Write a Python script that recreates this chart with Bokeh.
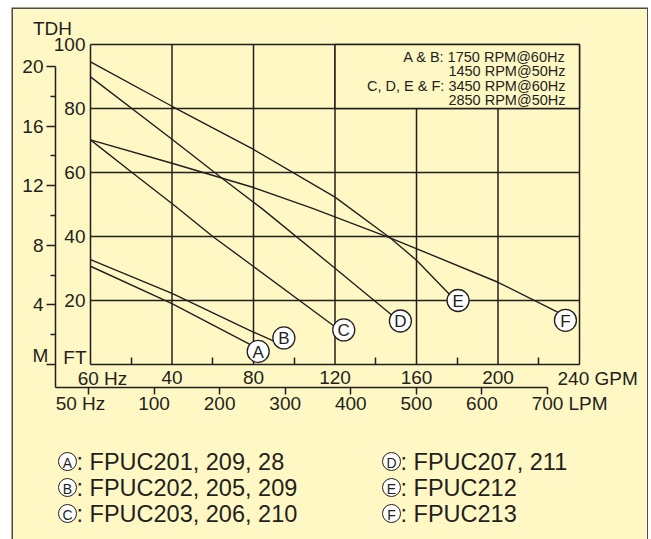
from bokeh.plotting import figure
from bokeh.models import Range1d, LinearAxis, FixedTicker
from bokeh.embed import file_html
from bokeh.resources import INLINE
from bokeh.core.properties import value

# ---------------- data ----------------
GPM_TICKS = [0, 40, 80, 120, 160, 200, 240]
GPM_LABELLED = [40, 80, 120, 160, 200]
GPM_MINOR = [20, 60, 100, 140, 180, 220]
FT_TICKS = [0, 20, 40, 60, 80, 100]
FT_LABELLED = [20, 40, 60, 80, 100]
M_TICKS = [0, 4, 8, 12, 16, 20]
M_MINOR = [2, 6, 10, 14, 18]
LPM_TICKS = [0, 100, 200, 300, 400, 500, 600, 700]

curve_A_gpm = [0, 40, 78, 80]
curve_A_ft = [30.7, 19.0, 6.4, 5.7]
curve_B_gpm = [0, 40, 79.4, 90]
curve_B_ft = [32.8, 22.2, 10.3, 7.3]
curve_C_gpm = [0, 21, 42, 60, 79, 120]
curve_C_ft = [70.2, 59.7, 49.3, 40.0, 31.1, 11.8]
curve_D_gpm = [0, 40, 66, 84, 120, 148]
curve_D_ft = [89.9, 70.4, 57.5, 48.8, 30.1, 15.4]
curve_E_gpm = [0, 40, 80, 120, 147, 160, 176.5]
curve_E_ft = [94.6, 80.7, 67.2, 52.3, 39.6, 32.6, 21.7]
curve_F_gpm = [0, 40, 80, 109, 147, 200, 230.5]
curve_F_ft = [70.2, 62.9, 55.3, 48.8, 39.6, 25.7, 16.0]

curve_keys = ["A", "B", "C", "D", "E", "F"]
marker_gpm = [82.3, 94.9, 124.3, 152.1, 180.4, 233.1]
marker_ft = [4.1, 8.3, 10.8, 13.6, 20.0, 13.8]

legend_models = [": FPUC201, 209, 28", ": FPUC202, 205, 209", ": FPUC203, 206, 210",
                 ": FPUC207, 211", ": FPUC212", ": FPUC213"]
speed_notes = ["A & B: 1750 RPM@60Hz", "1450 RPM@50Hz",
               "C, D, E & F: 3450 RPM@60Hz", "2850 RPM@50Hz"]

# ---------------- layout calibration (page pixels) ----------------
PX_X0, PX_X240 = 90.0, 579.0
PX_Y0, PX_Y100 = 364.0, 44.0
PAGE_L, PAGE_T = 11, 7
W, H = 637, 532

def gx(px):
    return (px - PX_X0) * 240.0 / (PX_X240 - PX_X0)

def fy(py):
    return (PX_Y0 - py) * 100.0 / (PX_Y0 - PX_Y100)

M_PER_FT = 20.0 / fy(66)

def lx(px):
    return (px - 88.0) * 700.0 / (547.0 - 88.0)

BG = "#FFF8C4"
INK = "#231F20"
FONT = "Liberation Sans"

p = figure(width=W, height=H, output_backend="svg", toolbar_location=None,
           x_range=Range1d(gx(PAGE_L), gx(PAGE_L + W)),
           y_range=Range1d(fy(PAGE_T + H), fy(PAGE_T)),
           x_axis_type=None, y_axis_type=None, min_border=0)
p.margin = (PAGE_T, 0, 0, PAGE_L)
p.background_fill_color = BG
p.border_fill_color = BG
p.outline_line_color = None
p.extra_x_ranges = {"lpm": Range1d(lx(PAGE_L), lx(PAGE_L + W))}
p.extra_y_ranges = {"m": Range1d(fy(PAGE_T + H) * M_PER_FT, fy(PAGE_T) * M_PER_FT)}

# outer box
p.quad(left=p.x_range.start, right=p.x_range.end, top=p.y_range.end,
       bottom=p.y_range.start - 10, fill_color=None, line_color="#4D4D4F", line_width=3)

# grid
p.segment(x0=GPM_TICKS, x1=GPM_TICKS, y0=[0] * len(GPM_TICKS), y1=[100] * len(GPM_TICKS),
          line_color=INK, line_width=1.5)
p.segment(x0=[0] * len(FT_TICKS), x1=[240] * len(FT_TICKS), y0=FT_TICKS, y1=FT_TICKS,
          line_color=INK, line_width=1.5)

# speed note box
p.quad(left=[120], right=[240], bottom=[80], top=[100], fill_color=BG,
       line_color=INK, line_width=1.5)
p.text(x=[gx(565)] * 4, y=[fy(56), fy(70.5), fy(85), fy(99.5)], text=speed_notes,
       text_align="right", text_baseline="middle", text_font=value(FONT),
       text_font_size="14.5px", text_color=INK)

# curves
curves = {
    "A": (curve_A_gpm, curve_A_ft), "B": (curve_B_gpm, curve_B_ft),
    "C": (curve_C_gpm, curve_C_ft), "D": (curve_D_gpm, curve_D_ft),
    "E": (curve_E_gpm, curve_E_ft), "F": (curve_F_gpm, curve_F_ft),
}
for k in curve_keys:
    xs, ys = curves[k]
    p.line(xs, ys, line_color=INK, line_width=1.4)

p.scatter(marker_gpm, marker_ft, size=22, fill_color="white", line_color=INK, line_width=1.3)
p.text(x=marker_gpm, y=marker_ft, text=curve_keys, text_align="center",
       text_baseline="middle", y_offset=1, text_font=value(FONT), text_font_size="17px",
       text_color=INK)

# axes
def style(ax, size="19px"):
    ax.major_label_text_font = FONT
    ax.major_label_text_font_size = size
    ax.major_label_text_color = INK
    ax.axis_line_color = INK
    ax.axis_line_width = 1.5
    ax.major_tick_line_color = INK
    ax.major_tick_line_width = 1.5
    ax.minor_tick_line_color = INK
    ax.minor_tick_line_width = 1.5

ax_ft = LinearAxis(fixed_location=0, bounds=(0, 100), ticker=FixedTicker(ticks=FT_LABELLED))
style(ax_ft)
ax_ft.axis_line_color = None
ax_ft.major_tick_out = 0
ax_ft.major_tick_in = 0
ax_ft.major_label_standoff = 5
p.add_layout(ax_ft, "left")

ax_m = LinearAxis(y_range_name="m", fixed_location=gx(55),
                  bounds=(fy(387) * M_PER_FT, 20),
                  ticker=FixedTicker(ticks=M_TICKS, minor_ticks=M_MINOR))
style(ax_m)
ax_m.major_tick_out = 9
ax_m.major_tick_in = 0
ax_m.minor_tick_out = 5
ax_m.minor_tick_in = 0
ax_m.major_label_standoff = 3
ax_m.major_label_overrides = {0: ""}
p.add_layout(ax_m, "left")

ax_gpm = LinearAxis(fixed_location=0, bounds=(0, 240),
                    ticker=FixedTicker(ticks=GPM_LABELLED, minor_ticks=GPM_MINOR))
style(ax_gpm)
ax_gpm.axis_line_color = None
ax_gpm.major_tick_out = 0
ax_gpm.major_tick_in = 0
ax_gpm.minor_tick_in = 7
ax_gpm.minor_tick_out = 0
ax_gpm.major_label_standoff = 6
p.add_layout(ax_gpm, "below")

ax_lpm = LinearAxis(x_range_name="lpm", fixed_location=fy(387),
                    bounds=(lx(55), 700), ticker=FixedTicker(ticks=LPM_TICKS))
style(ax_lpm)
ax_lpm.major_tick_out = 7
ax_lpm.major_tick_in = 0
ax_lpm.major_label_standoff = 2
ax_lpm.major_label_overrides = {0: ""}
p.add_layout(ax_lpm, "below")

# unit / scale captions
cap_text = ["TDH", "M", "60 Hz", "50 Hz"]
cap_x = [gx(52), gx(40), gx(102), gx(80)]
cap_y = [fy(28), fy(355), fy(378), fy(403)]
p.text(x=cap_x, y=cap_y, text=cap_text, text_align="center", text_baseline="middle",
       text_font=value(FONT), text_font_size="19px", text_color=INK)
p.text(x=[gx(86)], y=[fy(357)], text=["FT"], text_align="right", text_baseline="middle",
       text_font=value(FONT), text_font_size="19px", text_color=INK)
p.text(x=[gx(557), gx(568)], y=[fy(378), fy(403)], text=["240 GPM", "LPM"],
       text_align="left", text_baseline="middle",
       text_font=value(FONT), text_font_size="19px", text_color=INK)

# legend of pump models
leg_col_px = [67, 391]
leg_row_px = [461, 487, 513]
leg_x = [gx(leg_col_px[i // 3]) for i in range(6)]
leg_tx = [gx(leg_col_px[i // 3] + 9) for i in range(6)]
leg_y = [fy(leg_row_px[i % 3]) for i in range(6)]
p.scatter(leg_x, leg_y, size=18, fill_color="white", line_color=INK, line_width=1)
p.text(x=leg_x, y=leg_y, text=curve_keys, text_align="center", text_baseline="middle",
       y_offset=1, text_font=value(FONT), text_font_size="14px", text_color=INK)
p.text(x=leg_tx, y=leg_y, text=legend_models, text_align="left", text_baseline="middle",
       text_font=value(FONT), text_font_size="23.5px", text_color=INK)

open("out.html", "w").write(file_html(p, INLINE))
